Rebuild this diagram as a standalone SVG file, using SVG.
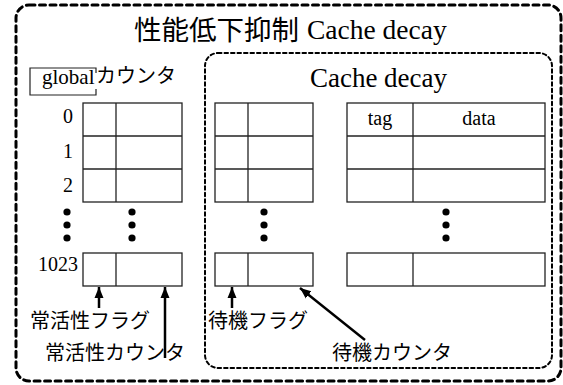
<svg xmlns="http://www.w3.org/2000/svg" width="563" height="385" viewBox="0 0 563 385">
<style>
.frame{fill:none;stroke:#000;stroke-linecap:round}
.outer{stroke-width:3;stroke-dasharray:6 4.5}
.inner{stroke-width:2;stroke-dasharray:3.5 3}
.cell{fill:#fff;stroke:#222;stroke-width:1.3}
.cj{font-family:"Noto Sans CJK JP","Noto Sans",sans-serif;fill:#000}
.se{font-family:"Liberation Serif","Times New Roman",serif;fill:#000}
.arr{stroke:#000;stroke-width:2.5;fill:none;marker-end:url(#ah)}
.dot{fill:#000}
</style>
<defs>
<marker id="ah" markerUnits="userSpaceOnUse" markerWidth="12" markerHeight="12" viewBox="0 0 12 12" refX="11" refY="6" orient="auto">
<path d="M0,1.5 L11,6 L0,10.5 Z" fill="#000"/>
</marker>
</defs>
<rect class="frame outer" x="16" y="5" width="545" height="376" rx="13"/>
<text class="cj" x="134" y="40" font-size="27.5">性能低下抑制<tspan class="se" x="307" y="39" font-size="27.5">Cache decay</tspan></text>

<g id="global-counter">
<path d="M96,73 V68 H30 V95 H96 V89" fill="none" stroke="#222" stroke-width="1.2"/>
<text class="se" x="42" y="84" font-size="21">global</text>
<text class="cj" x="96" y="83" font-size="20">カウンタ</text>
</g>

<g id="cache-decay">
<rect class="frame inner" x="205" y="53" width="347" height="315" rx="13"/>
<text class="se" x="378.5" y="87" font-size="27" text-anchor="middle">Cache decay</text>
</g>

<g id="left-table">
<rect class="cell" x="83" y="103" width="99" height="99"/>
<line class="cell" x1="83" y1="136" x2="182" y2="136"/>
<line class="cell" x1="83" y1="169" x2="182" y2="169"/>
<line class="cell" x1="116" y1="103" x2="116" y2="202"/>
<rect class="cell" x="83" y="253" width="99" height="33"/>
<line class="cell" x1="116" y1="253" x2="116" y2="286"/>
<text class="se" x="73" y="123" font-size="20" text-anchor="end">0</text>
<text class="se" x="73" y="158" font-size="20" text-anchor="end">1</text>
<text class="se" x="73" y="192" font-size="20" text-anchor="end">2</text>
<text class="se" x="78" y="271" font-size="20" text-anchor="end">1023</text>
<circle class="dot" cx="67" cy="212" r="3.6"/>
<circle class="dot" cx="67" cy="225" r="3.6"/>
<circle class="dot" cx="67" cy="238" r="3.6"/>
<circle class="dot" cx="132" cy="212" r="3.6"/>
<circle class="dot" cx="132" cy="225" r="3.6"/>
<circle class="dot" cx="132" cy="238" r="3.6"/>
</g>

<g id="middle-table">
<rect class="cell" x="215" y="103" width="98" height="99"/>
<line class="cell" x1="215" y1="136" x2="313" y2="136"/>
<line class="cell" x1="215" y1="169" x2="313" y2="169"/>
<line class="cell" x1="248" y1="103" x2="248" y2="202"/>
<rect class="cell" x="215" y="253" width="98" height="33"/>
<line class="cell" x1="248" y1="253" x2="248" y2="286"/>
<circle class="dot" cx="264" cy="212" r="3.6"/>
<circle class="dot" cx="264" cy="225" r="3.6"/>
<circle class="dot" cx="264" cy="238" r="3.6"/>
</g>

<g id="right-table">
<rect class="cell" x="347" y="103" width="198" height="99"/>
<line class="cell" x1="347" y1="136" x2="545" y2="136"/>
<line class="cell" x1="347" y1="169" x2="545" y2="169"/>
<line class="cell" x1="413" y1="103" x2="413" y2="202"/>
<rect class="cell" x="347" y="253" width="198" height="33"/>
<line class="cell" x1="413" y1="253" x2="413" y2="286"/>
<text class="se" x="380" y="125" font-size="20" text-anchor="middle">tag</text>
<text class="se" x="479" y="125" font-size="20" text-anchor="middle">data</text>
<circle class="dot" cx="446" cy="212" r="3.6"/>
<circle class="dot" cx="446" cy="225" r="3.6"/>
<circle class="dot" cx="446" cy="238" r="3.6"/>
</g>

<g id="labels">
<text class="cj" x="30" y="328" font-size="20">常活性フラグ</text>
<text class="cj" x="45" y="360" font-size="20">常活性カウンタ</text>
<text class="cj" x="208" y="328" font-size="20">待機フラグ</text>
<text class="cj" x="332" y="360" font-size="20">待機カウンタ</text>
</g>

<g id="connectors">
<line class="arr" x1="99" y1="308" x2="99" y2="287"/>
<line class="arr" x1="165" y1="358" x2="165" y2="287"/>
<line class="arr" x1="232" y1="308" x2="232" y2="287"/>
<line class="arr" x1="365" y1="340" x2="300" y2="288"/>
</g>
</svg>
